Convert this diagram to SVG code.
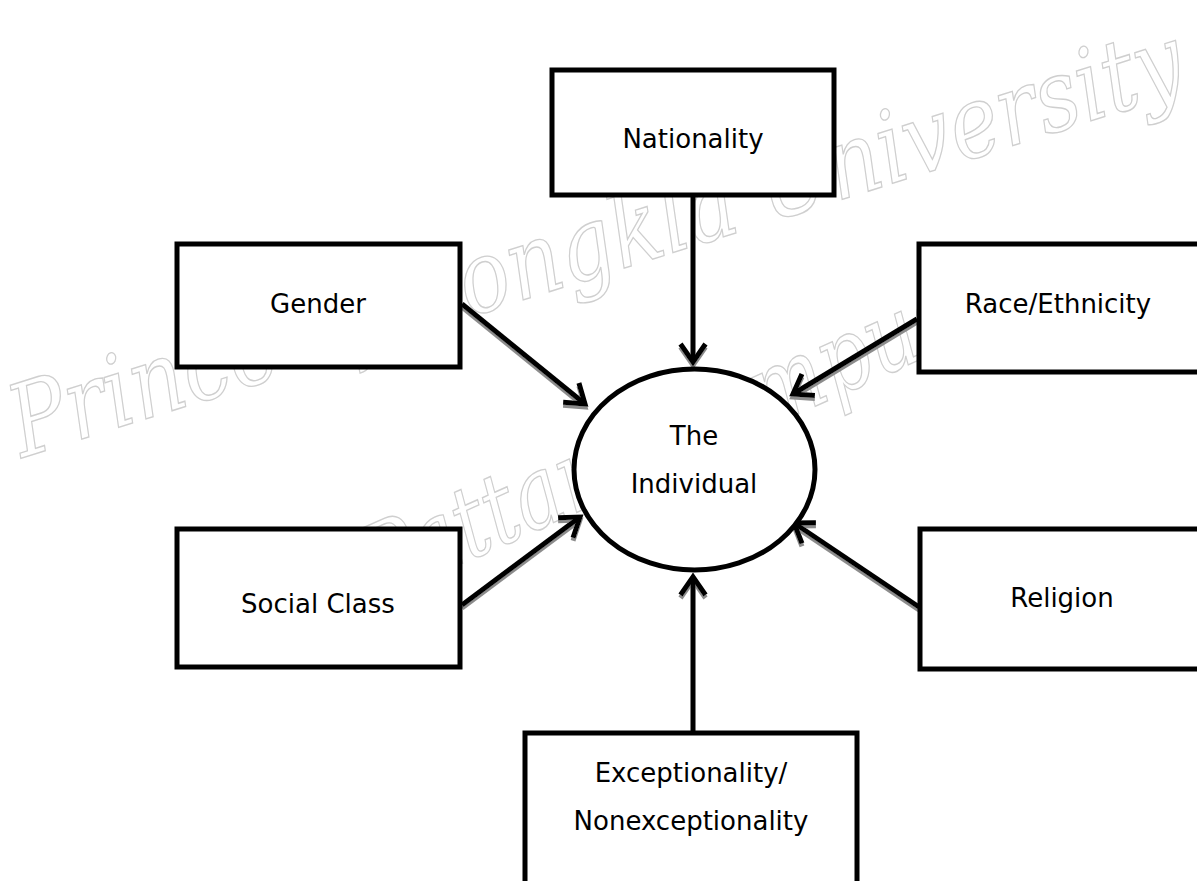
<svg xmlns="http://www.w3.org/2000/svg" width="1197" height="881" viewBox="0 0 1197 881">
  <defs>
    <style>
      .box { fill: #ffffff; stroke: #000000; stroke-width: 5; }
      .lbl { font-family: "DejaVu Sans", "Noto Sans", sans-serif; font-size: 26px; fill: #000000; text-anchor: middle; }
      .conn { fill: none; stroke: #000000; stroke-width: 5; marker-end: url(#arrow); }
      .wm { font-family: "DejaVu Serif", "Liberation Serif", serif; font-style: italic; font-size: 100px; fill: #ffffff; stroke: #cfcfcf; stroke-width: 1.4; }
    </style>
    <marker id="arrow" markerUnits="userSpaceOnUse" markerWidth="40" markerHeight="40" refX="0" refY="0" orient="auto" overflow="visible">
      <path d="M -18 -12.5 L 0 0 L -18 12.5" fill="none" stroke="#000000" stroke-width="5" stroke-linejoin="miter"/>
    </marker>
    <filter id="shadow" x="-10%" y="-10%" width="120%" height="120%">
      <feDropShadow dx="0" dy="3" stdDeviation="0.6" flood-color="#8c8c8c" flood-opacity="1"/>
    </filter>
  </defs>

  <rect x="0" y="0" width="1197" height="881" fill="#ffffff"/>

  <g id="watermark">
    <text class="wm" transform="translate(22,458) rotate(-17.5)" textLength="1225" lengthAdjust="spacingAndGlyphs">Prince of Songkla University</text>
    <text class="wm" transform="translate(380,600) rotate(-24)" textLength="640" lengthAdjust="spacingAndGlyphs">Pattani Campus</text>
  </g>

  <g id="connectors" filter="url(#shadow)">
    <path class="conn" d="M693 197 L693 362"/>
    <path class="conn" d="M462 304 L585 404"/>
    <path class="conn" d="M917 319 L793 394"/>
    <path class="conn" d="M462 605 L580 517"/>
    <path class="conn" d="M919 607 L794 523"/>
    <path class="conn" d="M693 731 L693 577"/>
  </g>

  <g id="nationality">
    <rect class="box" x="552" y="70" width="282" height="125"/>
    <text class="lbl" x="693" y="148">Nationality</text>
  </g>
  <g id="gender">
    <rect class="box" x="177" y="244" width="283" height="123"/>
    <text class="lbl" x="318" y="313">Gender</text>
  </g>
  <g id="race">
    <rect class="box" x="919" y="244" width="284" height="128"/>
    <text class="lbl" x="1058" y="313">Race/Ethnicity</text>
  </g>
  <g id="individual">
    <ellipse class="box" cx="694.5" cy="469.5" rx="120.5" ry="100.5"/>
    <text class="lbl" x="694" y="445">The</text>
    <text class="lbl" x="694" y="493">Individual</text>
  </g>
  <g id="social-class">
    <rect class="box" x="177" y="529" width="283" height="138"/>
    <text class="lbl" x="318" y="613">Social Class</text>
  </g>
  <g id="religion">
    <rect class="box" x="920" y="529" width="283" height="140"/>
    <text class="lbl" x="1062" y="607">Religion</text>
  </g>
  <g id="exceptionality">
    <rect class="box" x="525" y="733" width="332" height="200"/>
    <text class="lbl" x="691" y="782">Exceptionality/</text>
    <text class="lbl" x="691" y="830">Nonexceptionality</text>
  </g>
</svg>
